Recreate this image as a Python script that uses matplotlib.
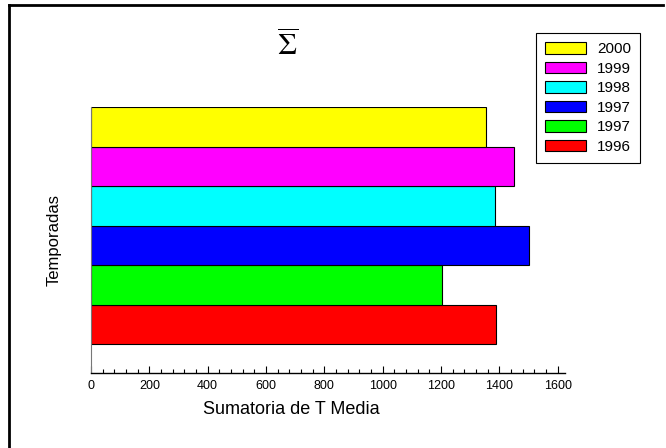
import matplotlib
matplotlib.use('Agg')
import matplotlib.pyplot as plt
from matplotlib.lines import Line2D
from matplotlib.ticker import MultipleLocator

# datos (de abajo hacia arriba)
temporadas = ['1996', '1997', '1997', '1998', '1999', '2000']
sumatoria = [1390, 1205, 1503, 1384, 1449, 1353]
colores = ['#ff0000', '#00ff00', '#0000ff', '#00ffff', '#ff00ff', '#ffff00']

plt.rcParams['font.family'] = ['Liberation Sans', 'DejaVu Sans']
plt.rcParams['mathtext.fontset'] = 'stix'

fig = plt.figure(figsize=(6.66, 4.48), dpi=100)
ax = fig.add_axes([91/666, 1-373/448, (565-91)/666, (373-107)/448])

bars = []
for i in range(len(temporadas)):
    b = ax.barh(i, sumatoria[i], height=1.0, color=colores[i], edgecolor='black',
                lw=0.8, label=temporadas[i])
    bars.append(b)

ax.set_xlim(0, 1625)
ax.set_ylim(-1.23, 5.5)
ax.set_yticks([])
ax.xaxis.set_major_locator(MultipleLocator(200))
ax.xaxis.set_minor_locator(MultipleLocator(40))
ax.tick_params(axis='x', which='major', direction='in', length=5, width=0.8, labelsize=9, pad=5)
ax.tick_params(axis='x', which='minor', direction='in', length=3, width=0.8)
for s in ['top', 'right']:
    ax.spines[s].set_visible(False)
ax.spines['left'].set_color('#777777')
ax.spines['bottom'].set_linewidth(1)

ax.set_xlabel('Sumatoria de T Media', fontsize=13)
ax.xaxis.set_label_coords((291-91)/(565-91), -(401-373)/(373-107))
ax.set_ylabel('Temporadas', fontsize=12)
ax.yaxis.set_label_coords(-(91-62)/(565-91), 0.5)

fig.text(288/666, 1-47/448, r'$\overline{\Sigma}$', fontsize=22, ha='center', va='center')

leg = ax.legend(bars[::-1], temporadas[::-1], loc='upper left',
                bbox_to_anchor=(536/666, 1-33/448), bbox_transform=fig.transFigure,
                fontsize=11, fancybox=False, framealpha=1, edgecolor='black',
                handlelength=2.7, handleheight=0.8, labelspacing=0.35,
                handletextpad=0.7, borderpad=0.6, borderaxespad=0)
leg.get_frame().set_linewidth(0.8)

# marco de la figura (solo arriba e izquierda visibles)
fig.add_artist(Line2D([9/666, 9/666], [0, 1-5/448], transform=fig.transFigure, color='black', lw=2))
fig.add_artist(Line2D([9/666, 663/666], [1-5/448, 1-5/448], transform=fig.transFigure, color='black', lw=2))

fig.savefig('out.png', dpi=100)
